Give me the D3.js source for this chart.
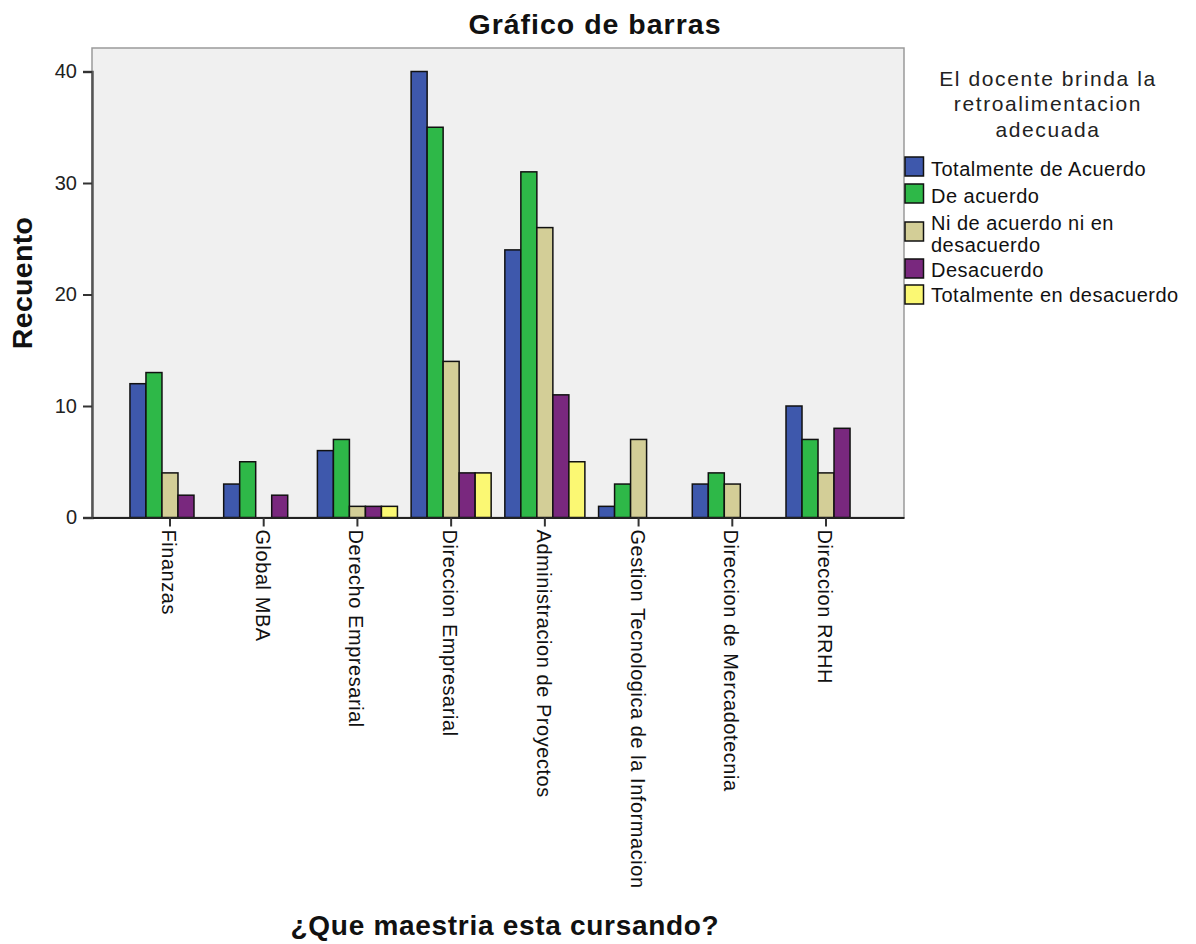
<!DOCTYPE html>
<html>
<head>
<meta charset="utf-8">
<script src="https://cdn.jsdelivr.net/npm/d3@7"></script>
<style>
  html, body { margin: 0; padding: 0; background: #ffffff; }
  svg { display: block; font-family: "Liberation Sans", Arial, sans-serif; }
</style>
</head>
<body>
<svg id="chart" width="1196" height="944"></svg>
<script>
// ---- data ----
const categories = ["Finanzas", "Global MBA", "Derecho Empresarial", "Direccion Empresarial",
  "Administracion de Proyectos", "Gestion Tecnologica de la Informacion",
  "Direccion de Mercadotecnia", "Direccion RRHH"];
const seriesNames = ["Totalmente de Acuerdo", "De acuerdo", "Ni de acuerdo ni en desacuerdo",
  "Desacuerdo", "Totalmente en desacuerdo"];
const legendLines = [["Totalmente de Acuerdo"], ["De acuerdo"], ["Ni de acuerdo ni en", "desacuerdo"],
  ["Desacuerdo"], ["Totalmente en desacuerdo"]];
const totalmenteDeAcuerdo   = [12, 3, 6, 40, 24, 1, 3, 10];
const deAcuerdo             = [13, 5, 7, 35, 31, 3, 4, 7];
const niAcuerdoNiDesacuerdo = [4, 0, 1, 14, 26, 7, 3, 4];
const desacuerdo            = [2, 2, 1, 4, 11, 0, 0, 8];
const totalmenteDesacuerdo  = [0, 0, 1, 4, 5, 0, 0, 0];
const seriesValues = [totalmenteDeAcuerdo, deAcuerdo, niAcuerdoNiDesacuerdo, desacuerdo, totalmenteDesacuerdo];
const yTicks = [0, 10, 20, 30, 40];
const colors = ["#3e58ac", "#2eb848", "#d3ce97", "#79287e", "#fbf873"];
const title = "Gráfico de barras";
const yTitle = "Recuento";
const xTitle = "¿Que maestria esta cursando?";
const legendTitle = ["El docente brinda la", "retroalimentacion", "adecuada"];

// ---- layout ----
const svg = d3.select("#chart");
const plot = { left: 92, right: 904, top: 48, bottom: 517.5 };

const x = d3.scaleBand().domain(categories).range([plot.left, plot.right])
  .paddingInner(0.146).paddingOuter(0.405);
const xs = d3.scaleBand().domain(seriesNames).range([0, x.bandwidth()]).padding(0);
const y = d3.scaleLinear().domain([0, 40]).range([plot.bottom, 71.5]);

// background frame
svg.append("rect")
  .attr("x", plot.left).attr("y", plot.top)
  .attr("width", plot.right - plot.left).attr("height", plot.bottom - plot.top)
  .attr("fill", "#f0f0f0").attr("stroke", "#9a9a9a").attr("stroke-width", 1.5);

// bars
const rows = [];
categories.forEach((c, i) => {
  seriesNames.forEach((s, j) => {
    rows.push({ cat: c, ser: s, j: j, v: seriesValues[j][i] });
  });
});
svg.append("g").selectAll("rect")
  .data(rows.filter(d => d.v > 0))
  .join("rect")
  .attr("x", d => x(d.cat) + xs(d.ser))
  .attr("y", d => y(d.v))
  .attr("width", xs.bandwidth())
  .attr("height", d => y(0) - y(d.v))
  .attr("fill", d => colors[d.j])
  .attr("stroke", "#111")
  .attr("stroke-width", 1.5);

// y axis
const yAxis = svg.append("g")
  .attr("transform", `translate(${plot.left},0)`)
  .call(d3.axisLeft(y).tickValues(yTicks).tickSize(9).tickPadding(6).tickFormat(d3.format("d")));
yAxis.select(".domain").attr("stroke", "#555").attr("stroke-width", 2.5);
yAxis.selectAll(".tick line").attr("stroke", "#333").attr("stroke-width", 2);
yAxis.selectAll(".tick text").attr("font-size", 20).attr("fill", "#222")
  .attr("font-family", "Liberation Sans, Arial, sans-serif");

// x axis
const xAxis = svg.append("g")
  .attr("transform", `translate(0,${plot.bottom})`)
  .call(d3.axisBottom(x).tickSize(9).tickSizeOuter(0).tickPadding(4));
xAxis.select(".domain").attr("stroke", "#222").attr("stroke-width", 2);
xAxis.selectAll(".tick line").attr("stroke", "#333").attr("stroke-width", 2);
xAxis.selectAll(".tick text")
  .attr("font-size", 20).attr("fill", "#111")
  .attr("font-family", "Liberation Sans, Arial, sans-serif")
  .attr("letter-spacing", "0.55px")
  .attr("text-anchor", "start")
  .attr("transform", "rotate(90)")
  .attr("x", 12).attr("y", 0).attr("dy", "0.4em");

// titles
svg.append("text").attr("x", 595).attr("y", 34).attr("text-anchor", "middle")
  .attr("font-size", 28.5).attr("font-weight", "bold").attr("letter-spacing", "1px")
  .attr("fill", "#111").text(title);
svg.append("text").attr("transform", "translate(32,283) rotate(-90)").attr("text-anchor", "middle")
  .attr("font-size", 28.5).attr("font-weight", "bold").attr("letter-spacing", "0.3px")
  .attr("fill", "#111").text(yTitle);
svg.append("text").attr("x", 505).attr("y", 935).attr("text-anchor", "middle")
  .attr("font-size", 28).attr("font-weight", "bold").attr("letter-spacing", "0.7px")
  .attr("fill", "#111").text(xTitle);

// legend
const lg = svg.append("g");
legendTitle.forEach((t, i) => {
  lg.append("text").attr("x", 1048).attr("y", 85.5 + i * 25.5).attr("text-anchor", "middle")
    .attr("font-size", 21).attr("letter-spacing", "1.6px").attr("fill", "#222").text(t);
});
const swatchTops = [157, 184, 222, 259, 285];
const textBases = [176, 203, 230, 277, 302];
legendLines.forEach((lines, j) => {
  lg.append("rect").attr("x", 905).attr("y", swatchTops[j]).attr("width", 18.5).attr("height", 19)
    .attr("fill", colors[j]).attr("stroke", "#111").attr("stroke-width", 1.5);
  lines.forEach((t, k) => {
    lg.append("text").attr("x", 931).attr("y", textBases[j] + k * 22)
      .attr("font-size", 20).attr("letter-spacing", "0.5px").attr("fill", "#111").text(t);
  });
});
</script>
</body>
</html>
